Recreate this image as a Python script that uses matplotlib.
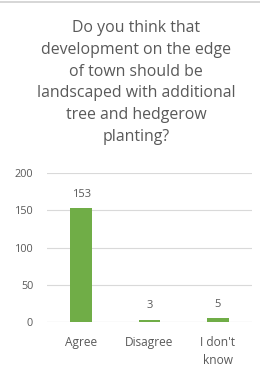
import matplotlib
matplotlib.use("Agg")
import matplotlib.pyplot as plt
from matplotlib.lines import Line2D

categories = ["Agree", "Disagree", "I don't\nknow"]
values = [153, 3, 5]
yticks = [0, 50, 100, 150, 200]
title = "Do you think that\ndevelopment on the edge\nof town should be\nlandscaped with additional\ntree and hedgerow\nplanting?"

plt.rcParams['font.family'] = ['Open Sans', 'DejaVu Sans']
text_col = "#595959"
bar_col = "#70AD47"
grid_col = "#D9D9D9"

W, H = 260, 379
fig = plt.figure(figsize=(W/100, H/100), dpi=100)
ax = fig.add_axes([47/W, 1-322/H, (252-47)/W, (322-173)/H])

x = list(range(len(categories)))
bars = ax.bar(x, values, width=0.32, color=bar_col, zorder=3)
ax.set_xlim(-0.5, len(categories)-0.5)
ax.set_ylim(0, 200)
ax.set_yticks(yticks)
ax.set_yticklabels([str(t) for t in yticks], fontsize=7.8, color=text_col)
ax.set_xticks(x)
ax.set_xticklabels(categories, fontsize=8.6, color=text_col, linespacing=1.55)
ax.tick_params(axis='y', length=0, pad=10)
ax.tick_params(axis='x', length=0, pad=10)
ax.yaxis.grid(True, color=grid_col, linewidth=0.8, zorder=0)
for s in ax.spines.values():
    s.set_visible(False)
ax.axhline(0, color=grid_col, linewidth=0.8, zorder=1)

for xi, v in zip(x, values):
    ax.annotate(str(v), (xi, v), xytext=(0, 6), textcoords='offset points',
                ha='center', va='bottom', fontsize=8, color=text_col)

fig.text(136/W, 1-82.5/H, title, ha='center', va='center', fontsize=11.4,
         color=text_col, linespacing=1.47)

fig.add_artist(Line2D([0, 1], [1-1.5/H, 1-1.5/H], transform=fig.transFigure,
                      color="#D0D0D0", linewidth=1.2))

fig.savefig("out.png", dpi=100)
